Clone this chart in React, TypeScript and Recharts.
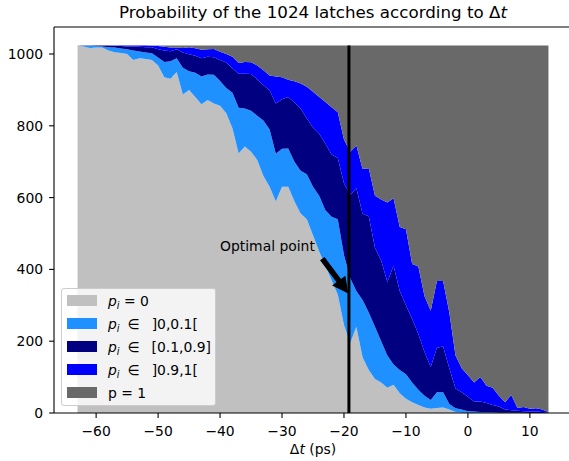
import React from 'react';
import {
  AreaChart,
  Area,
  XAxis,
  YAxis,
  ReferenceLine,
  ReferenceDot,
  Legend,
  Customized
} from 'recharts';

// Δt values (ps), one per simulation step
const DT = [
  -63, -62, -61, -60, -59, -58, -57, -56, -55, -54, -53, -52, -51, -50, -49, -48, -47, -46, -45, -44,
  -43, -42, -41, -40, -39, -38, -37, -36, -35, -34, -33, -32, -31, -30, -29, -28, -27, -26, -25, -24,
  -23, -22, -21, -20, -19, -18, -17, -16, -15, -14, -13, -12, -11, -10, -9, -8, -7, -6, -5, -4,
  -3, -2, -1, 0, 1, 2, 3, 4, 5, 6, 7, 8, 9, 10, 11, 12, 13
];

// number of latches in each probability class
const P_ZERO = [
  1024, 1021, 1017, 1018, 1018, 1010, 1005, 1003, 1000, 983, 988, 986, 983, 968, 935, 931, 950, 887, 900, 880,
  860, 872, 862, 856, 835, 793, 723, 742, 728, 705, 660, 630, 589, 630, 630, 590, 556, 540, 495, 450,
  410, 370, 330, 245, 195, 240, 155, 120, 95, 85, 70, 79, 55, 40, 30, 22, 15, 12, 14, 15,
  10, 3, 1, 0, 0, 0, 0, 0, 0, 0, 0, 0, 0, 0, 0, 0, 0
];
const P_LOW = [
  0, 2, 6, 4, 3, 9, 13, 12, 13, 27, 19, 18, 19, 22, 43, 49, 38, 75, 52, 68,
  77, 71, 80, 69, 70, 99, 127, 106, 114, 123, 155, 160, 133, 106, 107, 110, 119, 125, 135, 155,
  155, 177, 210, 195, 181, 100, 160, 160, 145, 115, 90, 56, 65, 68, 55, 43, 33, 24, 44, 43,
  15, 10, 9, 5, 4, 3, 2, 2, 1, 1, 1, 1, 1, 0, 0, 0, 0
];
const P_MID = [
  0, 1, 1, 2, 3, 5, 5, 7, 8, 11, 13, 15, 17, 23, 32, 28, 25, 42, 47, 47,
  51, 49, 49, 58, 71, 68, 95, 97, 102, 102, 98, 108, 140, 138, 143, 165, 173, 155, 165, 173,
  185, 173, 170, 200, 231, 286, 240, 268, 220, 225, 205, 275, 220, 192, 177, 155, 122, 92, 124, 127,
  100, 55, 48, 40, 28, 29, 26, 20, 17, 9, 7, 5, 4, 4, 4, 3, 1
];
const P_HIGH = [
  0, 0, 0, 0, 0, 0, 1, 2, 3, 3, 4, 5, 4, 9, 10, 10, 5, 13, 20, 21,
  24, 21, 23, 23, 24, 32, 30, 33, 33, 38, 42, 42, 75, 61, 48, 59, 70, 89, 100, 102,
  116, 132, 128, 122, 121, 119, 125, 134, 145, 170, 221, 188, 178, 212, 153, 188, 155, 157, 186, 183,
  155, 92, 67, 60, 53, 68, 48, 48, 30, 20, 42, 8, 12, 8, 9, 7, 1
];
const P_ONE = [
  0, 0, 0, 0, 0, 0, 0, 0, 0, 0, 0, 0, 1, 2, 4, 6, 6, 7, 5, 8,
  12, 11, 10, 18, 24, 32, 49, 46, 47, 56, 69, 84, 87, 89, 96, 100, 106, 115, 129, 144,
  158, 172, 186, 262, 296, 279, 344, 342, 419, 429, 438, 426, 506, 512, 609, 616, 699, 739, 656, 656,
  744, 864, 899, 919, 939, 924, 948, 954, 976, 994, 974, 1010, 1007, 1012, 1011, 1014, 1022
];

const X_TICKS = [-60, -50, -40, -30, -20, -10, 0, 10];
const Y_TICKS = [0, 200, 400, 600, 800, 1000];
const N_LATCHES = 1024;
const OPT_DT = -19.2;
const ARROW_TAIL = { x: -23.5, y: 430 };
const ARROW_TIP = { x: -19.3, y: 333 };
const NOTE_AT = { x: -40, y: 452 };

const FONT = 'DejaVu Sans';

const pi = (
  <>
    <i>p</i>
    <sub style={{ fontSize: '70%', verticalAlign: '-0.3em', lineHeight: 0, fontStyle: 'italic' }}>i</sub>
  </>
);
const inRange = (r: string) => (
  <>
    {pi}
    <span style={{ marginLeft: 8 }}>∈</span>
    <span style={{ marginLeft: 12 }}>{r}</span>
  </>
);

const SERIES = [
  { key: 'p0', color: '#c0c0c0', label: <>{pi} = 0</> },
  { key: 'low', color: '#1e90ff', label: inRange(']0,0.1[') },
  { key: 'mid', color: '#000080', label: inRange('[0.1,0.9]') },
  { key: 'high', color: '#0000ff', label: inRange(']0.9,1[') },
  { key: 'p1', color: '#696969', label: <>p = 1</> }
];

const data = DT.map((dt, i) => ({
  dt,
  p0: P_ZERO[i],
  low: P_LOW[i],
  mid: P_MID[i],
  high: P_HIGH[i],
  p1: P_ONE[i]
}));

const fmtTick = (v: number) => (v < 0 ? `\u2212${-v}` : `${v}`);

const LegendBox = () => (
  <div
    style={{
      boxSizing: 'border-box',
      width: 155,
      background: 'rgba(255,255,255,0.8)',
      border: '1px solid #cccccc',
      borderRadius: 3,
      padding: '0 4px 1px 5px',
      fontFamily: FONT,
      fontSize: 13.9,
      color: '#000'
    }}
  >
    {SERIES.map((s) => (
      <div key={s.key} style={{ display: 'flex', alignItems: 'center', height: 23 }}>
        <span style={{ display: 'inline-block', width: 30, height: 10.5, background: s.color, marginRight: 11 }} />
        <span style={{ whiteSpace: 'nowrap' }}>{s.label}</span>
      </div>
    ))}
  </div>
);

const FatArrow = (props: any) => {
  const { x1, y1, x2, y2 } = props;
  const dx = x2 - x1;
  const dy = y2 - y1;
  const len = Math.hypot(dx, dy) || 1;
  const ux = dx / len;
  const uy = dy / len;
  const nx = -uy;
  const ny = ux;
  const w = 2.8;
  const hw = 8.3;
  const hl = 16;
  const bx = x2 - ux * hl;
  const by = y2 - uy * hl;
  const pts = [
    [x1 + nx * w, y1 + ny * w],
    [bx + nx * w, by + ny * w],
    [bx + nx * hw, by + ny * hw],
    [x2, y2],
    [bx - nx * hw, by - ny * hw],
    [bx - nx * w, by - ny * w],
    [x1 - nx * w, y1 - ny * w]
  ];
  return <polygon points={pts.map((p) => p.join(',')).join(' ')} fill="#000" />;
};

const NoteText = (props: any) => (
  <text x={props.cx} y={props.cy} fontFamily={FONT} fontSize={13.9} fill="#000">
    Optimal point
  </text>
);

const Labels = () => (
  <g fontFamily={FONT} fill="#000">
    <text x={313} y={18} textAnchor="middle" fontSize={16.7}>
      <tspan>Probability of the 1024 latches according to Δ</tspan>
      <tspan fontStyle="italic">t</tspan>
    </text>
    <text x={313} y={454} textAnchor="middle" fontSize={13.9}>
      <tspan>Δ</tspan>
      <tspan fontStyle="italic">t</tspan>
      <tspan> (ps)</tspan>
    </text>
  </g>
);

export default function App() {
  return (
    <div style={{ position: 'absolute', left: 0, top: 0, width: 569, height: 461, overflow: 'hidden', background: '#fff' }}>
      <AreaChart
        width={580}
        height={461}
        data={data}
        margin={{ top: 27, right: 8, bottom: 0, left: 0 }}
        style={{ fontFamily: FONT }}
      >
        <XAxis
          dataKey="dt"
          type="number"
          domain={[-66.8, 16.8]}
          ticks={X_TICKS}
          tickFormatter={fmtTick}
          height={48}
          tickSize={4.9}
          tickMargin={8}
          axisLine={{ stroke: '#000', strokeWidth: 1.1 }}
          tickLine={{ stroke: '#000', strokeWidth: 1.1 }}
          tick={{ fontSize: 13.9, fill: '#000', fontFamily: FONT }}
        />
        <YAxis
          type="number"
          domain={[0, 1075.2]}
          ticks={Y_TICKS}
          width={54}
          tickSize={4.9}
          tickMargin={6}
          axisLine={{ stroke: '#000', strokeWidth: 1.1 }}
          tickLine={{ stroke: '#000', strokeWidth: 1.1 }}
          tick={{ fontSize: 13.9, fill: '#000', fontFamily: FONT }}
        />
        {SERIES.map((s) => (
          <Area
            key={s.key}
            dataKey={s.key}
            stackId="latches"
            type="linear"
            fill={s.color}
            fillOpacity={1}
            stroke="none"
            dot={false}
            activeDot={false}
            isAnimationActive={false}
          />
        ))}
        <ReferenceLine y={1075.2} stroke="#000" strokeWidth={1.1} />
        <ReferenceLine
          segment={[{ x: OPT_DT, y: 0 }, { x: OPT_DT, y: N_LATCHES }]}
          stroke="#000"
          strokeWidth={3}
        />
        <ReferenceLine segment={[ARROW_TAIL, ARROW_TIP]} shape={FatArrow} />
        <ReferenceDot x={NOTE_AT.x} y={NOTE_AT.y} r={0} shape={NoteText} />
        <Legend
          layout="horizontal"
          align="center"
          verticalAlign="middle"
          content={() => <LegendBox />}
          wrapperStyle={{ left: 61, top: 288, width: 155, height: 118 }}
        />
        <Customized component={Labels} />
      </AreaChart>
    </div>
  );
}
